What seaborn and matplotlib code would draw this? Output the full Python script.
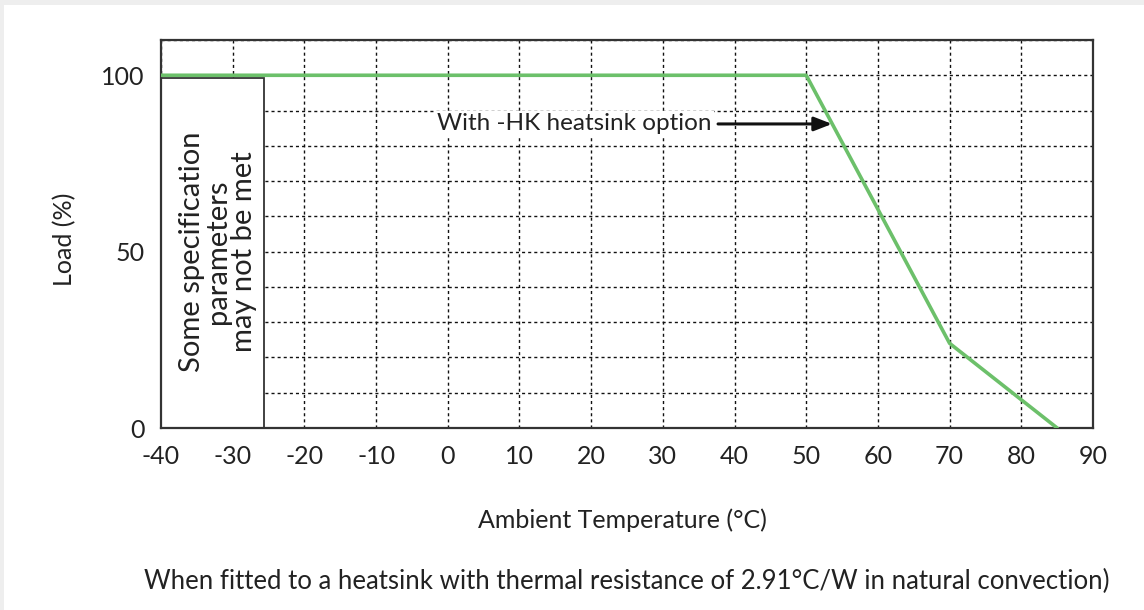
import matplotlib
matplotlib.use("Agg")
import matplotlib.pyplot as plt
from matplotlib.patches import Rectangle
from matplotlib.ticker import MultipleLocator, FixedLocator
import seaborn as sns
import pandas as pd

# ---- data ----
temps = [-40, 50, 70, 85]
loads = [100, 100, 24, 0]
x_ticks = list(range(-40, 100, 10))
y_ticks = [0, 50, 100]
box_x = [-40, -25.7]
box_y = [0, 99.3]
box_text = "Some specification\nparameters\nmay not be met"
arrow_label = "With -HK heatsink option"
arrow_x = [37.7, 53.6]
arrow_y = 86.2
x_label = "Ambient Temperature (°C)"
y_label = "Load (%)"
caption = "When fitted to a heatsink with thermal resistance of 2.91°C/W in natural convection)"

sns.set_theme(style="white")
plt.rcParams["font.family"] = ["Lato", "DejaVu Sans"]
plt.rcParams["axes.unicode_minus"] = False
TEXT = "#222222"
GREEN = "#6cc06a"

fig = plt.figure(figsize=(11.44, 6.10), dpi=100, facecolor="#eeeeee")
fig.patches.append(Rectangle((4 / 1144, 0), 1, 605 / 610, transform=fig.transFigure,
                             facecolor="white", edgecolor="none", zorder=-10))
ax = fig.add_axes([161 / 1144, (610 - 428) / 610, 932 / 1144, 388 / 610])
ax.set_facecolor("white")

df = pd.DataFrame({"temp": temps, "load": loads})
sns.lineplot(data=df, x="temp", y="load", ax=ax, color=GREEN, linewidth=2.6,
             sort=False, zorder=3)

ax.set_xlim(-40, 90)
ax.set_ylim(0, 110)
ax.xaxis.set_major_locator(FixedLocator(x_ticks))
ax.yaxis.set_major_locator(FixedLocator(y_ticks))
ax.yaxis.set_minor_locator(MultipleLocator(10))
ax.tick_params(axis="both", which="both", length=0, labelsize=18, colors=TEXT)
ax.tick_params(axis="y", pad=12)
ax.tick_params(axis="x", pad=12)
ax.set_axisbelow(True)
ax.grid(True, which="both", color="#111111", linestyle=(0, (2.2, 2.2)), linewidth=1.0)

for s in ax.spines.values():
    s.set_color("#333333")
    s.set_linewidth(1.6)

# box
ax.add_patch(Rectangle((box_x[0], box_y[0]), box_x[1] - box_x[0], box_y[1] - box_y[0],
                       facecolor="white", edgecolor="#333333", linewidth=1.3, zorder=2))
ax.text(-32.1, 50, box_text, rotation=90, ha="center", va="center",
        fontsize=21, color=TEXT, linespacing=1.0, zorder=4)

# arrow
ax.annotate("", xy=(arrow_x[1], arrow_y), xytext=(arrow_x[0], arrow_y),
            arrowprops=dict(arrowstyle="-|>,head_length=0.9,head_width=0.35",
                            color="#111111", linewidth=2.2, shrinkA=0, shrinkB=0), zorder=5)
ax.text(arrow_x[0] - 0.9, arrow_y, arrow_label, ha="right", va="center",
        fontsize=17.5, color=TEXT, zorder=4,
        bbox=dict(facecolor="white", edgecolor="none", pad=2))

ax.set_xlabel(x_label, fontsize=18, color=TEXT)
ax.xaxis.set_label_coords((622 - 161) / 932, -(520 - 428) / 388)
ax.xaxis.label.set_va("center")
ax.set_ylabel(y_label, fontsize=18, color=TEXT)
ax.yaxis.set_label_coords((65 - 161) / 932, (428 - 239) / 388)
ax.yaxis.label.set_va("center")
fig.text(627 / 1144, 1 - 581 / 610, caption, ha="center", va="center", fontsize=18.5, color=TEXT)

fig.savefig("out.png", dpi=100, facecolor=fig.get_facecolor())
